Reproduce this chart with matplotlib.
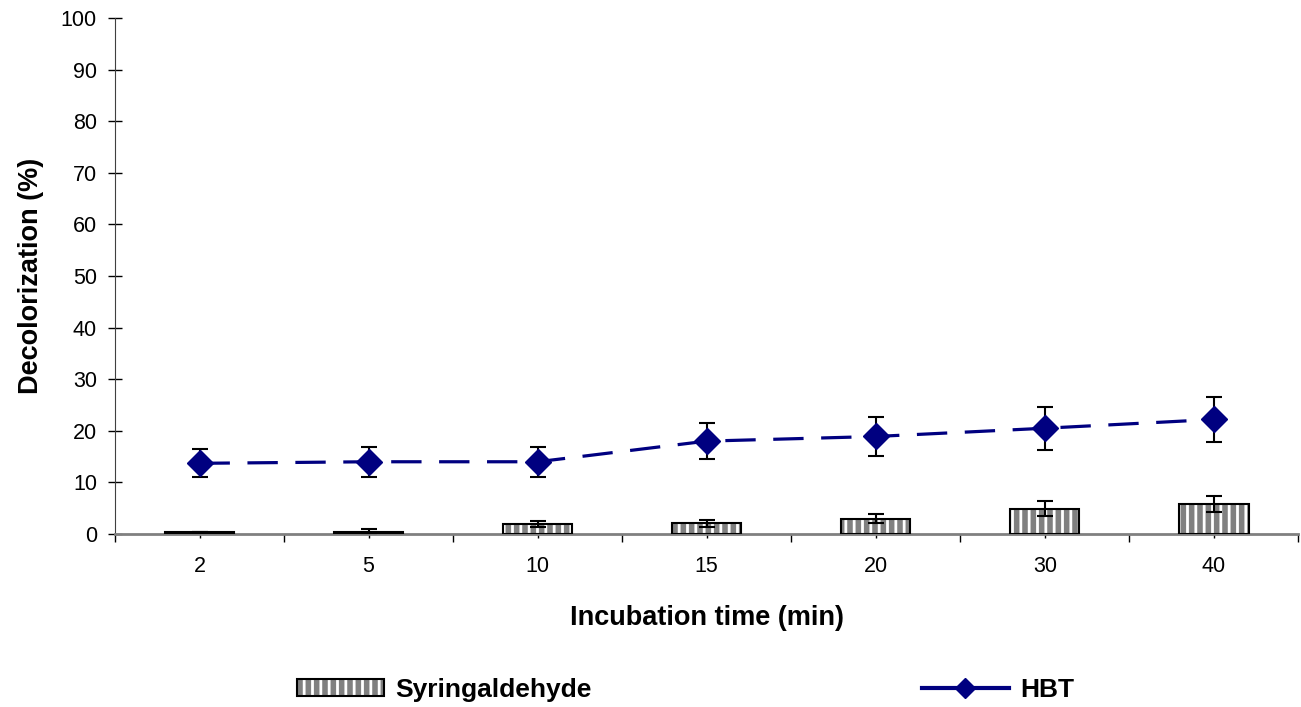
import numpy as np
import matplotlib
matplotlib.use("Agg")
import matplotlib.pyplot as plt
from matplotlib.patches import Rectangle
from matplotlib.lines import Line2D
from matplotlib.legend_handler import HandlerTuple

# data
times = ["2", "5", "10", "15", "20", "30", "40"]
syr_mean = [0.3, 0.3, 2.0, 2.1, 3.0, 4.9, 5.8]
syr_err = [0.0, 0.6, 0.6, 0.7, 0.8, 1.4, 1.6]
hbt_mean = [13.7, 14.0, 14.0, 18.0, 18.9, 20.5, 22.2]
hbt_err = [2.7, 2.9, 2.9, 3.5, 3.7, 4.2, 4.3]

plt.rcParams['font.family'] = ['Liberation Sans', 'DejaVu Sans']
plt.rcParams['hatch.color'] = 'white'
plt.rcParams['hatch.linewidth'] = 2.0

fig = plt.figure(figsize=(13.01, 7.07), dpi=100)
ax = fig.add_axes([0.0884, 0.2447, 0.9096, 0.7298])

x = np.arange(len(times))
bar_color = '#808080'
navy = '#000080'

# hatched fill (hatch colour from rcParams since edgecolor is left unset)
ax.bar(x, syr_mean, width=0.41, color=bar_color, hatch='||', linewidth=0, zorder=2)
ax.bar(x, syr_mean, width=0.41, fill=False, edgecolor='black', linewidth=1.5, zorder=3)
ax.errorbar(x, syr_mean, yerr=syr_err, fmt='none', ecolor='black', elinewidth=1.5,
            capsize=6, capthick=1.5, zorder=4)

ax.errorbar(x, hbt_mean, yerr=hbt_err, fmt='none', ecolor='black', elinewidth=1.5,
            capsize=6, capthick=1.5, zorder=4)
ax.plot(x, hbt_mean, color=navy, linewidth=2.3, dashes=(9.5, 5.5),
        marker='D', markersize=13, markerfacecolor=navy, markeredgecolor=navy, zorder=5)

ax.set_xlim(-0.5, len(times) - 0.5)
ax.set_ylim(0, 100)
ax.set_yticks(np.arange(0, 101, 10))

# category labels at centres, tick marks between categories
ax.set_xticks(np.arange(-0.5, len(times), 1.0))
ax.set_xticklabels([])
ax.set_xticks(x, minor=True)
ax.set_xticklabels(times, minor=True, fontsize=15.5)
ax.tick_params(axis='x', which='major', direction='out', length=6, width=1, color='black')
ax.tick_params(axis='x', which='minor', direction='out', length=3, width=1, color='black', pad=13)
ax.tick_params(axis='y', direction='inout', length=10, width=1, labelsize=15.5, pad=8)

for s in ['top', 'right']:
    ax.spines[s].set_visible(False)
ax.spines['left'].set_color('#404040')
ax.spines['bottom'].set_color('#808080')
ax.spines['bottom'].set_linewidth(2)

ax.set_ylabel('Decolorization (%)', fontsize=19.5, fontweight='bold', labelpad=12)
ax.set_xlabel('Incubation time (min)', fontsize=19.5, fontweight='bold', labelpad=20)

h_fill = Rectangle((0, 0), 1, 1, facecolor=bar_color, hatch='||', linewidth=0)
h_edge = Rectangle((0, 0), 1, 1, fill=False, edgecolor='black', linewidth=1.5)
h_line = Line2D([], [], color=navy, linewidth=3, marker='D', markersize=10,
                markerfacecolor=navy, markeredgecolor=navy)
leg = fig.legend([(h_fill, h_edge), h_line], ['Syringaldehyde', 'HBT'],
                 handler_map={tuple: HandlerTuple(ndivide=1, pad=0)},
                 loc='center', bbox_to_anchor=(0.527, 0.024), ncol=2, frameon=False,
                 handlelength=3.3, handleheight=0.6, handletextpad=0.45,
                 columnspacing=12.5, prop={'weight': 'bold', 'size': 19})

fig.savefig('out.png', dpi=100)
